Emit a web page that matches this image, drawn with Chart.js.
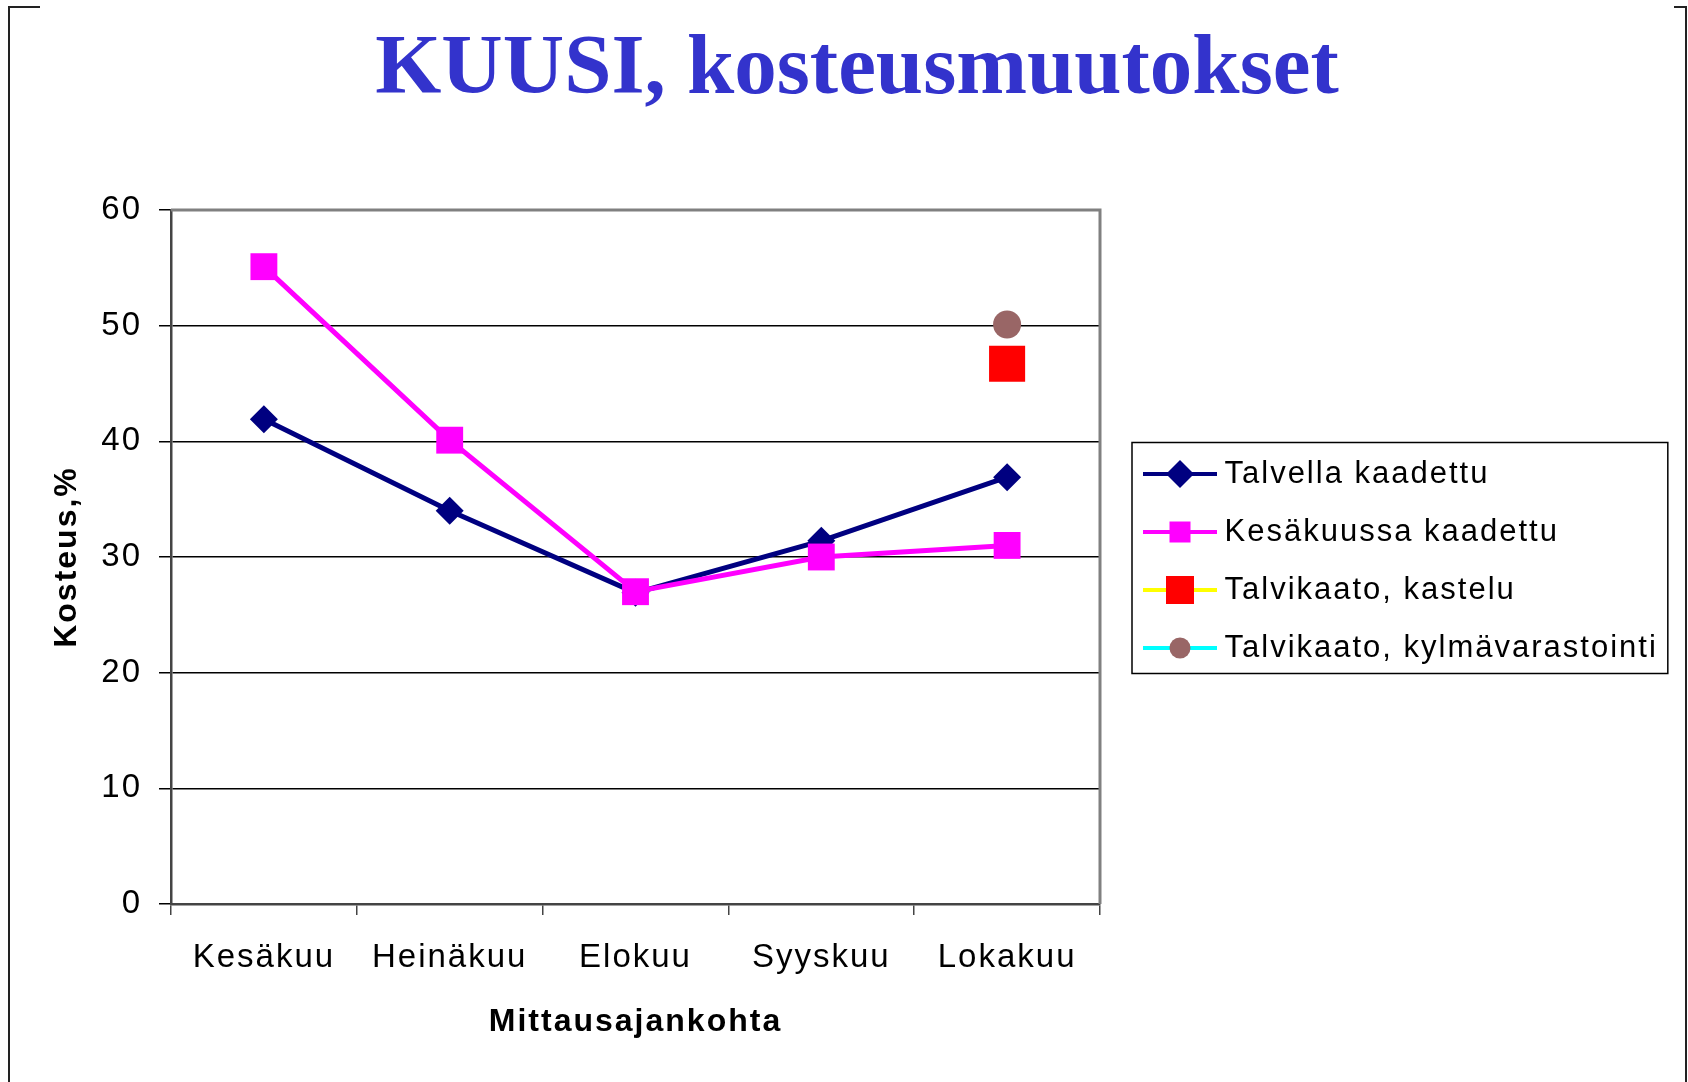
<!DOCTYPE html>
<html>
<head>
<meta charset="utf-8">
<title>KUUSI, kosteusmuutokset</title>
<script src="https://cdn.jsdelivr.net/npm/chart.js"></script>
<style>
  html, body { margin: 0; padding: 0; background: #fff; }
  canvas { display: block; }
</style>
</head>
<body>
<canvas id="kosteusChart" width="1688" height="1082"></canvas>
<script>
// ===== KUUSI, kosteusmuutokset =====
const months = ["Kesäkuu", "Heinäkuu", "Elokuu", "Syyskuu", "Lokakuu"];
const talvellaKaadettu = [41.9, 34.0, 26.9, 31.4, 36.9];
const kesakuussaKaadettu = [55.1, 40.1, 27.0, 30.0, 31.0];
const talvikaatoKastelu = [null, null, null, null, 46.7];
const talvikaatoKylma = [null, null, null, null, 50.1];
const yTicks = [0, 10, 20, 30, 40, 50, 60];

const FONT = "'Liberation Sans', Arial, sans-serif";
const SPACING = "2px"; // the original axis / legend text is set a little wide

// small line + marker images for the legend
function legendIcon(lineColor, marker, markerColor, size) {
  const c = document.createElement("canvas");
  c.width = 98;
  c.height = 40;
  const g = c.getContext("2d");
  g.strokeStyle = lineColor;
  g.lineWidth = 4;
  g.beginPath();
  g.moveTo(24, 20);
  g.lineTo(98, 20);
  g.stroke();
  g.fillStyle = markerColor;
  g.beginPath();
  const cx = 61, cy = 20;
  if (marker === "diamond") {
    g.moveTo(cx, cy - size); g.lineTo(cx + size, cy);
    g.lineTo(cx, cy + size); g.lineTo(cx - size, cy);
    g.closePath();
  } else if (marker === "square") {
    g.rect(cx - size, cy - size, size * 2, size * 2);
  } else {
    g.arc(cx, cy, size, 0, Math.PI * 2);
  }
  g.fill();
  return c;
}

const icons = [
  legendIcon("#000080", "diamond", "#000080", 14),
  legendIcon("#FF00FF", "square", "#FF00FF", 10.5),
  legendIcon("#FFFF00", "square", "#FF0000", 14),
  legendIcon("#00FFFF", "circle", "#996666", 10.5),
];

// fixed legend width, letter spacing for everything but the big title
const tweaks = {
  id: "tweaks",
  beforeUpdate(chart) {
    const lg = chart.legend;
    if (lg && !lg._fixedWidth) {
      const fit = lg.fit.bind(lg);
      lg.fit = function () { fit(); this.width = 588; };
      lg._fixedWidth = true;
    }
    const tb = chart.titleBlock;
    if (tb && !tb._noSpacing) {
      const draw = tb.draw.bind(tb);
      tb.draw = function () {
        const c = this.ctx;
        const ls = c.letterSpacing;
        c.letterSpacing = "0px";
        draw();
        c.letterSpacing = ls;
      };
      tb._noSpacing = true;
    }
  },
  beforeLayout(chart) { chart.ctx.letterSpacing = SPACING; },
  beforeDraw(chart) { chart.ctx.letterSpacing = SPACING; },
};

// gray plot-area border (top + right), legend frame, slide frame
const frames = {
  id: "frames",
  beforeDatasetsDraw(chart) {
    const { ctx, chartArea: a } = chart;
    ctx.save();
    ctx.strokeStyle = "#808080";
    ctx.lineWidth = 3;
    ctx.beginPath();
    ctx.moveTo(a.left, a.top);
    ctx.lineTo(a.right, a.top);
    ctx.lineTo(a.right, a.bottom);
    ctx.stroke();
    ctx.restore();
  },
  afterDraw(chart) {
    const { ctx, width, height } = chart;
    const boxes = chart.legend.legendHitBoxes;
    const l = Math.min(...boxes.map(b => b.left)) + 5;
    const r = Math.max(...boxes.map(b => b.left + b.width)) + 10;
    const t = Math.min(...boxes.map(b => b.top)) - 16;
    const btm = Math.max(...boxes.map(b => b.top + b.height)) + 10;
    ctx.save();
    ctx.strokeStyle = "#000";
    ctx.lineWidth = 1.5;
    ctx.strokeRect(l, t, r - l, btm - t);

    ctx.strokeStyle = "#222";
    ctx.lineWidth = 2;
    ctx.beginPath();
    ctx.moveTo(40, 7); ctx.lineTo(9, 7); ctx.lineTo(9, height);
    ctx.moveTo(width - 14, 7); ctx.lineTo(width - 2, 7); ctx.lineTo(width - 2, height);
    ctx.stroke();
    ctx.restore();
  },
};

const ctx = document.getElementById("kosteusChart").getContext("2d");

new Chart(ctx, {
  type: "line",
  data: {
    labels: months,
    datasets: [
      {
        label: "Talvella kaadettu",
        data: talvellaKaadettu,
        borderColor: "#000080",
        backgroundColor: "#000080",
        borderWidth: 5,
        pointStyle: "rectRot",
        pointRadius: 14,
        pointBorderWidth: 0,
        order: 1,
      },
      {
        label: "Kesäkuussa kaadettu",
        data: kesakuussaKaadettu,
        borderColor: "#FF00FF",
        backgroundColor: "#FF00FF",
        borderWidth: 5,
        pointStyle: "rect",
        pointRadius: 19,
        pointBorderWidth: 0,
        order: 0,
      },
      {
        label: "Talvikaato, kastelu",
        data: talvikaatoKastelu,
        borderColor: "#FFFF00",
        backgroundColor: "#FF0000",
        borderWidth: 4,
        pointStyle: "rect",
        pointRadius: 25.5,
        pointBorderWidth: 0,
        order: 0,
      },
      {
        label: "Talvikaato, kylmävarastointi",
        data: talvikaatoKylma,
        borderColor: "#00FFFF",
        backgroundColor: "#996666",
        borderWidth: 4,
        pointStyle: "circle",
        pointRadius: 14,
        pointBorderWidth: 0,
        order: 0,
      },
    ],
  },
  options: {
    responsive: false,
    animation: false,
    layout: { padding: { left: 26, right: 0, top: 0, bottom: 0 } },
    elements: { line: { tension: 0 } },
    plugins: {
      tooltip: { enabled: false },
      title: {
        display: true,
        text: "KUUSI, kosteusmuutokset",
        color: "#3333CC",
        font: { family: "'Liberation Serif', 'Times New Roman', serif", size: 85, weight: "bold" },
        padding: { top: 20, bottom: 88 },
      },
      legend: {
        display: true,
        position: "right",
        title: { display: true, text: " ", font: { size: 10 }, padding: 14 },
        labels: {
          color: "#000",
          font: { family: FONT, size: 31 },
          usePointStyle: true,
          pointStyleWidth: 82,
          boxHeight: 31,
          padding: 27,
          sort: (a, b) => a.datasetIndex - b.datasetIndex,
          generateLabels(chart) {
            const items = Chart.defaults.plugins.legend.labels.generateLabels(chart);
            items.forEach(it => { it.pointStyle = icons[it.datasetIndex]; });
            return items;
          },
        },
      },
    },
    scales: {
      x: {
        offset: true,
        afterFit(scale) { scale.height = 178; },
        grid: {
          offset: true,
          drawOnChartArea: false,
          drawTicks: true,
          tickLength: 11,
          color: "#444",
          lineWidth: 1.5,
        },
        border: { color: "#444", width: 2.5 },
        ticks: {
          color: "#000",
          padding: 23,
          font: { family: FONT, size: 33 },
        },
        title: {
          display: true,
          text: "Mittausajankohta",
          color: "#000",
          font: { family: FONT, size: 32, weight: "bold" },
          padding: { top: 0, bottom: 41 },
        },
      },
      y: {
        min: yTicks[0],
        max: yTicks[yTicks.length - 1],
        afterFit(scale) { scale.width = 145; },
        grid: {
          color: "#000",
          lineWidth: 1.5,
          tickLength: 12,
        },
        border: { color: "#444", width: 2.5 },
        ticks: {
          stepSize: yTicks[1] - yTicks[0],
          color: "#000",
          padding: 17,
          font: { family: FONT, size: 33 },
        },
        title: {
          display: true,
          text: "Kosteus,%",
          color: "#000",
          font: { family: FONT, size: 32, weight: "bold" },
          padding: { top: 22, bottom: 0 },
        },
      },
    },
  },
  plugins: [tweaks, frames],
});
</script>
</body>
</html>
